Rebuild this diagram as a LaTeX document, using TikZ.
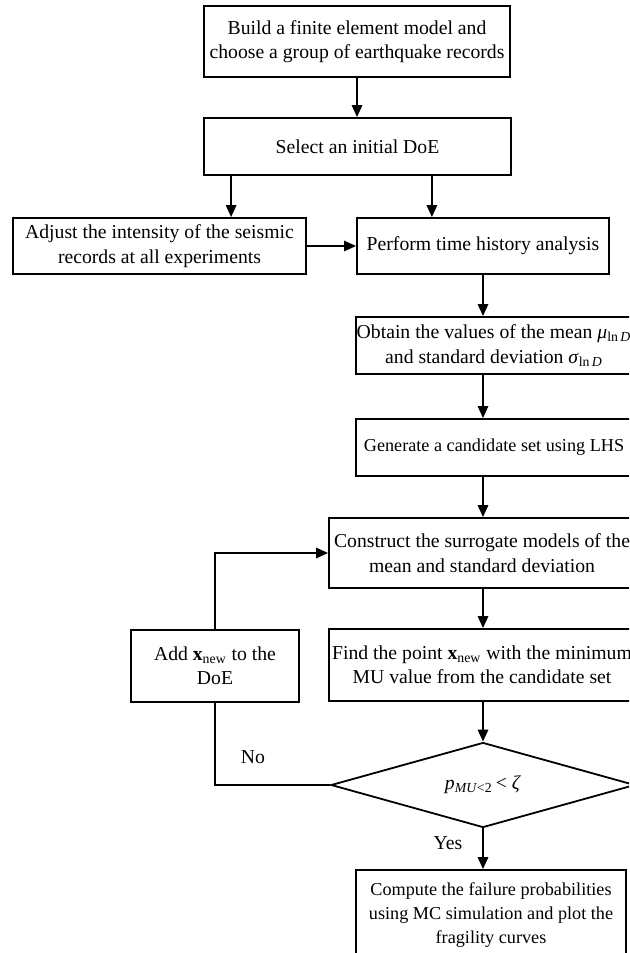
\documentclass[tikz,border=0pt]{standalone}
\usepackage{fontspec}
\setmainfont{Liberation Serif}
\usetikzlibrary{arrows.meta,shapes.geometric,calc}
\newcommand{\xnew}{\textbf{x}\textsubscript{new}}
\begin{document}
\begin{tikzpicture}[x=0.5pt,y=-0.5pt,
  box/.style={draw,line width=0.9pt,rectangle,align=center,inner sep=0pt,
              font=\fontsize{9.85}{12.2}\selectfont},
  small/.style={font=\fontsize{9.1}{12.2}\selectfont},
  lbl/.style={inner sep=0pt,font=\fontsize{9.85}{12}\selectfont},
  arr/.style={-{Triangle[length=6pt,width=5.2pt]},line width=0.9pt},
  link/.style={line width=0.9pt}]
\clip (0,0) rectangle (629,953);
\useasboundingbox (0,0) rectangle (629,953);

% main column of steps
\node[box,minimum width=153pt,minimum height=35.5pt] (build) at (357,41.5)
  {Build a finite element model and\\choose a group of earthquake records};
\node[box,minimum width=153.5pt,minimum height=28.5pt] (select) at (357.5,146.5)
  {Select an initial DoE};
\node[box,minimum width=146.5pt,minimum height=28pt] (adjust) at (159.5,246)
  {Adjust the intensity of the seismic\\records at all experiments};
\node[box,minimum width=126pt,minimum height=28pt] (perform) at (483,246)
  {Perform time history analysis};
\node[box,minimum width=138pt,minimum height=28.5pt] (obtain) at (494,345.5)
  {Obtain the values of the mean \textit{μ}\textsubscript{ln\,\textit{D}}\\
   and standard deviation \textit{σ}\textsubscript{ln\,\textit{D}}};
\node[box,small,minimum width=138pt,minimum height=28.5pt] (generate) at (494,447.5)
  {Generate a candidate set using LHS};
\node[box,minimum width=153pt,minimum height=35pt] (construct) at (482,553)
  {Construct the surrogate models of the\\mean and standard deviation};
\node[box,minimum width=153pt,minimum height=36pt] (find) at (482,665)
  {Find the point \xnew{} with the minimum\\MU value from the candidate set};
\node[box,minimum width=84pt,minimum height=36pt] (add) at (215,666)
  {Add \xnew{} to the\\DoE};
\node[draw,diamond,line width=0.9pt,aspect=3.6,inner sep=0pt,
      minimum width=152pt,minimum height=42.5pt,font=\fontsize{9.85}{12}\selectfont]
  (check) at (483,785)
  {\textit{p}\textsubscript{\textit{MU}<2}\,< \textit{ζ}};
\node[box,small,minimum width=135pt,minimum height=45pt] (compute) at (491,915)
  {Compute the failure probabilities\\using MC simulation and plot the\\fragility curves};

% connectors
\draw[arr] (build.south) -- (build.south |- select.north);
\draw[arr] ([xshift=14pt]select.south west) -- ([xshift=14pt]select.south west |- adjust.north);
\draw[arr] ([xshift=-40pt]select.south east) -- ([xshift=-40pt]select.south east |- perform.north);
\draw[arr] (adjust.east) -- (perform.west);
\draw[arr] (perform.south) -- (perform.south |- obtain.north);
\draw[arr] (perform.south |- obtain.south) -- (perform.south |- generate.north);
\draw[arr] (perform.south |- generate.south) -- (perform.south |- construct.north);
\draw[arr] (perform.south |- construct.south) -- (perform.south |- find.north);
\draw[arr] (check.north |- find.south) -- (check.north);
\draw[arr] (check.south) -- (check.south |- compute.north);
\draw[link] (check.west) -| (add.south);
\draw[arr] (add.north) |- (construct.west);

% branch labels
\node[lbl] (yes) at (448,843) {Yes};
\node[lbl] (no) at (253,757) {No};
\end{tikzpicture}
\end{document}
